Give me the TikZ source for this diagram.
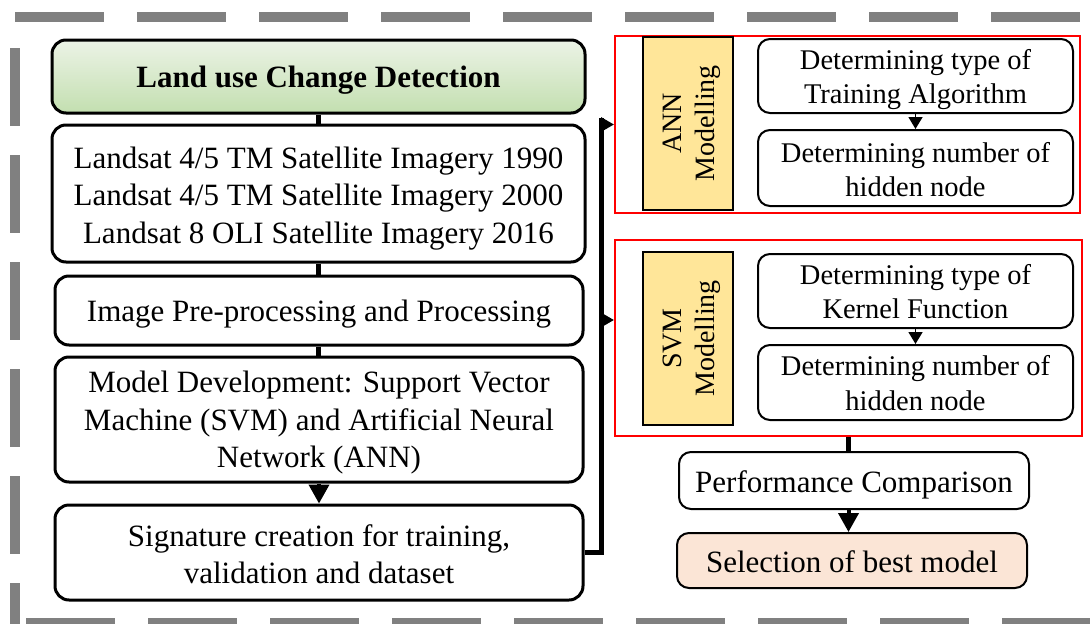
\documentclass[tikz,border=0pt]{standalone}
\usepackage{fontspec}
\setmainfont{Liberation Serif}
\usetikzlibrary{arrows.meta}

\definecolor{dashgray}{RGB}{128,128,128}
\definecolor{titletop}{RGB}{236,243,230}
\definecolor{titlebot}{RGB}{195,223,176}
\definecolor{labelyellow}{RGB}{255,230,153}
\definecolor{peach}{RGB}{251,229,214}
\definecolor{framered}{RGB}{255,0,0}

% invisible strut that sets the height of a node's first line
\newcommand\padtop[1]{\rule{0pt}{#1}}

\tikzset{
  border/.style={draw=dashgray, line width=10pt},
  mainbox/.style={draw=black, line width=3pt, rounded corners=14pt, align=center,
    inner sep=0pt, font=\fontsize{31}{37.5}\selectfont},
  resultbox/.style={draw=black, line width=2pt, rounded corners=12pt, align=center,
    inner sep=0pt, font=\fontsize{31}{37.5}\selectfont},
  subbox/.style={draw=black, line width=2pt, rounded corners=12pt, align=center,
    inner sep=0pt, font=\fontsize{28.5}{34.5}\selectfont},
  redframe/.style={draw=framered, line width=2pt, inner sep=0pt},
  modeltag/.style={draw=black, line width=2pt, fill=labelyellow, rotate=90, align=center,
    inner sep=0pt, font=\fontsize{28}{33}\selectfont},
  link/.style={line width=5pt},
  flow/.style={line width=4pt, -{Triangle[length=19pt,width=20pt]}},
  busarrow/.style={line width=3pt, -{Triangle[length=13pt,width=14pt]}},
  smallflow/.style={line width=1.5pt, -{Triangle[length=12pt,width=14pt]}},
}

\begin{document}
\begin{tikzpicture}[x=1pt,y=-1pt]
\useasboundingbox (0,0) rectangle (1090,624);

% dashed outer frame
\draw[border, dash pattern=on 89pt off 33pt] (15,17) -- (1090,17);
\draw[border, dash pattern=on 78pt off 29pt] (15,48) -- (15,624);
\draw[border, dash pattern=on 89pt off 33pt] (26,623) -- (1090,623);

% left column
\node[mainbox, top color=titletop, bottom color=titlebot, minimum width=533, minimum height=73]
  (title) at (318.5,76.5) {\padtop{29.5pt}\bfseries Land use Change Detection};
\node[mainbox, minimum width=533, minimum height=137] (landsat) at (318.5,193.5)
  {\padtop{31.5pt}Landsat 4/5 TM Satellite Imagery 1990\\Landsat 4/5 TM Satellite Imagery 2000\\Landsat 8 OLI Satellite Imagery 2016};
\node[mainbox, minimum width=528, minimum height=69] (prep) at (319,310.5)
  {\padtop{29.5pt}Image Pre-processing and Processing};
\node[mainbox, minimum width=528, minimum height=125] (model) at (319,419.5)
  {\padtop{28.5pt}Model Development: Support Vector\\Machine (SVM) and Artificial Neural\\Network (ANN)};
\node[mainbox, minimum width=528, minimum height=95] (sig) at (319,552.5)
  {\padtop{25.5pt}Signature creation for training,\\validation and dataset};

\draw[link] (title.south) -- (title.south |- landsat.north);
\draw[link] (title.south |- landsat.south) -- (title.south |- prep.north);
\draw[link] (title.south |- prep.south) -- (title.south |- model.north);
\draw[flow] (model.south) -- (sig.north);

% ANN block
\node[redframe, minimum width=465, minimum height=177] (ann) at (847.5,124.5) {};
\node[modeltag, minimum width=173, minimum height=90] (anntag) at (688,123.5)
  {\padtop{26.5pt}ANN\\Modelling};
\node[subbox, minimum width=315, minimum height=74] (annA) at (915.5,76)
  {\padtop{27.5pt}Determining type of\\Training Algorithm};
\node[subbox, minimum width=315, minimum height=76] (annB) at (915.5,168)
  {\padtop{23.5pt}Determining number of\\hidden node};
\draw[smallflow] (annA.south) -- (annB.north);

% SVM block
\node[redframe, minimum width=467, minimum height=196] (svm) at (848.5,338) {};
\node[modeltag, minimum width=173, minimum height=90] (svmtag) at (688,338.5)
  {\padtop{27pt}SVM\\Modelling};
\node[subbox, minimum width=315, minimum height=74] (svmA) at (915.5,291)
  {\padtop{21.5pt}Determining type of\\Kernel Function};
\node[subbox, minimum width=315, minimum height=75] (svmB) at (915.5,382.5)
  {\padtop{21.5pt}Determining number of\\hidden node};
\draw[smallflow] (svmA.south) -- (svmB.north);

% bus from the signature step to both modelling blocks
\coordinate (busTop) at (601,118);
\coordinate (svmTap) at (601,320);
\draw[link] (sig.east) -| (busTop);
\draw[busarrow] (busTop |- ann.west) -- (ann.west);
\draw[busarrow] (svmTap) -- (svmTap -| svm.west);

% comparison and selection
\node[resultbox, minimum width=350, minimum height=57] (perf) at (854,480.5)
  {\padtop{31pt}Performance Comparison};
\node[resultbox, fill=peach, minimum width=350, minimum height=55] (sel) at (852,560.5)
  {\padtop{23.5pt}Selection of best model};
\draw[link] (svm.south) -- (svm.south |- perf.north);
\draw[flow] (svm.south |- perf.south) -- (svm.south |- sel.north);
\end{tikzpicture}
\end{document}
